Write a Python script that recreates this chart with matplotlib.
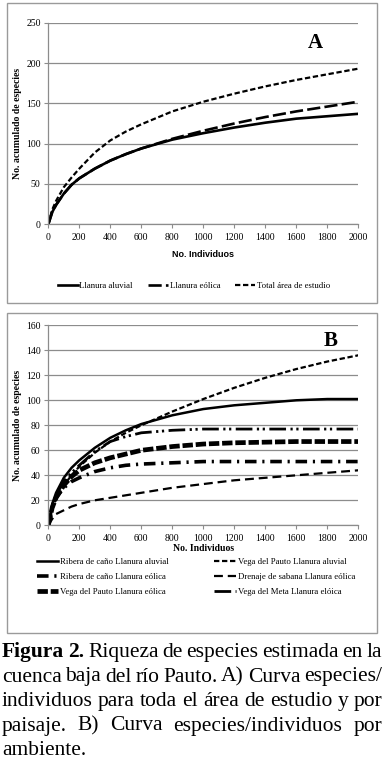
import matplotlib
matplotlib.use('Agg')
import matplotlib.pyplot as plt
from matplotlib.patches import Rectangle
import numpy as np

# --- data ---
individuos = [0, 25, 50, 100, 150, 200, 300, 400, 500, 600, 800, 1000, 1200, 1400, 1600, 1800, 2000]

# panel A
llanura_aluvial = [0, 15, 24, 38, 49, 57, 69, 79, 87, 94, 105, 113, 120, 126, 131, 134, 137]
llanura_eolica = [0, 15, 24, 38, 49, 57, 69, 79, 87, 94, 106, 116, 125, 133, 140, 146, 152]
total_area = [0, 18, 29, 46, 58, 69, 89, 104, 115, 124, 140, 152, 162, 171, 179, 186, 193]

# panel B
ribera_aluvial = [0, 17, 26, 38, 46, 52, 62, 70, 76, 81, 88, 93, 96, 98, 100, 101, 101]
vega_pauto_aluvial = [0, 13, 21, 32, 40, 47, 58, 67, 74, 80, 91, 101, 110, 118, 125, 131, 136]
ribera_eolica = [0, 14, 22, 30, 35, 38, 43, 46, 48, 49, 50, 51, 51, 51, 51, 51, 51]
drenaje_eolica = [0, 5, 9, 12, 15, 17, 20, 22, 24, 26, 30, 33, 36, 38, 40, 42, 44]
vega_pauto_eolica = [0, 14, 22, 32, 39, 44, 50, 54, 57, 60, 63, 65, 66, 66.5, 67, 67, 67]
vega_meta_eolica = [0, 15, 24, 35, 42, 48, 59, 67, 71, 74, 76, 77, 77, 77, 77, 77, 77]

W, H = 385, 770
serif = 'Liberation Serif'
plt.rcParams['font.family'] = serif

fig = plt.figure(figsize=(W / 100, H / 100), dpi=100)


def box(x0, y0, x1, y1):
    # pixel box (top-left origin) -> figure fraction
    return [x0 / W, 1 - y1 / H, (x1 - x0) / W, (y1 - y0) / H]


def frame(x0, y0, x1, y1):
    b = box(x0, y0, x1, y1)
    fig.patches.append(Rectangle((b[0], b[1]), b[2], b[3], transform=fig.transFigure,
                                 fill=False, edgecolor='#9a9a9a', lw=1.0))


def style_axes(ax, ymax, ystep):
    ax.set_xlim(0, 2000)
    ax.set_ylim(0, ymax)
    ax.set_xticks(np.arange(0, 2001, 200))
    ax.set_yticks(np.arange(0, ymax + 1, ystep))
    ax.grid(axis='y', color='#8c8c8c', lw=0.9)
    ax.set_axisbelow(True)
    for s in ['top', 'right']:
        ax.spines[s].set_visible(False)
    for s in ['left', 'bottom']:
        ax.spines[s].set_color('#8c8c8c')
        ax.spines[s].set_linewidth(0.9)
    ax.tick_params(axis='both', labelsize=7, colors='#8c8c8c', labelcolor='black',
                   length=3, width=0.8, direction='out')
    ax.tick_params(axis='y', pad=2.5)
    ax.tick_params(axis='x', pad=3)
    ax.set_ylabel('No. acumulado de especies', fontsize=7, fontweight='bold', labelpad=3)


frame(7, 3, 377, 303)
frame(7, 313, 377, 633)

# ---------- panel A ----------
axA = fig.add_axes(box(48.3, 22.7, 358.3, 224.3))
style_axes(axA, 250, 50)
axA.plot(individuos, llanura_aluvial, color='black', lw=1.9, label='Llanura aluvial')
axA.plot(individuos, llanura_eolica, color='black', lw=1.9, dashes=(5, 1.6), label='Llanura eólica')
axA.plot(individuos, total_area, color='black', lw=1.6, dashes=(2.4, 1.2), label='Total área de estudio')
axA.set_xlabel('No. Individuos', fontsize=6.5, fontweight='bold', family='Liberation Sans', labelpad=6)
axA.text(0.86, 0.9, 'A', transform=axA.transAxes, fontsize=15, fontweight='bold', ha='center', va='center')
axA.legend(loc='center', bbox_to_anchor=(194 / W, 1 - 286 / H), bbox_transform=fig.transFigure,
           ncol=3, frameon=False, fontsize=6.3, handlelength=2.3, handletextpad=0.2, columnspacing=1.7)

# ---------- panel B ----------
axB = fig.add_axes(box(48.3, 325.3, 358.3, 525.3))
style_axes(axB, 160, 20)
l1, = axB.plot(individuos, ribera_aluvial, color='black', lw=1.8, label='Ribera de caño Llanura aluvial')
l2, = axB.plot(individuos, vega_pauto_aluvial, color='black', lw=1.6, dashes=(2.4, 1.2),
               label='Vega del Pauto Llanura aluvial')
l3, = axB.plot(individuos, ribera_eolica, color='black', lw=2.6, dashes=(3.2, 1.6, 0.6, 1.6),
               label='Ribera de caño Llanura eólica')
l4, = axB.plot(individuos, drenaje_eolica, color='black', lw=1.6, dashes=(4, 2.2),
               label='Drenaje de sabana Llanura eólica')
l5, = axB.plot(individuos, vega_pauto_eolica, color='black', lw=3.4, dashes=(2.2, 0.6),
               label='Vega del Pauto Llanura eólica')
l6, = axB.plot(individuos, vega_meta_eolica, color='black', lw=2.0, dashes=(6, 1.6, 0.8, 1.3, 0.8, 1.6),
               label='Vega del Meta Llanura elóica')
axB.set_xlabel('No. Individuos', fontsize=7, fontweight='bold', labelpad=1)
axB.text(0.91, 0.92, 'B', transform=axB.transAxes, fontsize=15, fontweight='bold', ha='center', va='center')
axB.legend(handles=[l1, l3, l5, l2, l4, l6], loc='center', bbox_to_anchor=(196 / W, 1 - 577 / H),
           bbox_transform=fig.transFigure, ncol=2, frameon=False, fontsize=6.3,
           handlelength=2.5, handletextpad=0.2, columnspacing=5.2, labelspacing=0.8)

# ---------- caption (justified) ----------
cap_lines = [
    [('Figura 2.', 'bold'), ('Riqueza de especies estimada en la', 'normal')],
    [('cuenca baja del río Pauto. A) Curva especies/', 'normal')],
    [('individuos para toda el área de estudio y por', 'normal')],
    [('paisaje. B) Curva especies/individuos por', 'normal')],
    [('ambiente.', 'normal')],
]
cap_size = 15.5
x_left, x_right = 2.0, 382.0
baselines = [657, 681.5, 706, 730.5, 755]
renderer = fig.canvas.get_renderer()

for i, line in enumerate(cap_lines):
    words = []
    for chunk, weight in line:
        for w in chunk.split(' '):
            words.append((w, weight))
    y = 1 - baselines[i] / H
    texts = []
    for w, weight in words:
        t = fig.text(0, y, w, fontsize=cap_size, fontweight=weight, va='baseline', ha='left')
        texts.append(t)
    widths = [t.get_window_extent(renderer).width for t in texts]
    if i < len(cap_lines) - 1:
        gap = (x_right - x_left - sum(widths)) / (len(words) - 1)
    else:
        gap = cap_size * 1.389 * 0.25
    x = x_left
    for t, wd in zip(texts, widths):
        t.set_x(x / W)
        x += wd + gap

fig.savefig('out.png', dpi=100)
